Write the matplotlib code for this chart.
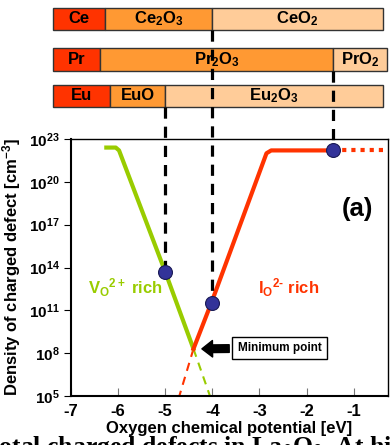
import numpy as np
import matplotlib
matplotlib.use("Agg")
import matplotlib.pyplot as plt
from matplotlib.patches import Rectangle
from matplotlib.transforms import blended_transform_factory

plt.rcParams["font.family"] = ["Liberation Sans", "DejaVu Sans"]
plt.rcParams["font.weight"] = "bold"
plt.rcParams["mathtext.fontset"] = "custom"
plt.rcParams["mathtext.rm"] = "Liberation Sans:bold"
plt.rcParams["mathtext.it"] = "Liberation Sans:bold:italic"
plt.rcParams["mathtext.bf"] = "Liberation Sans:bold"
plt.rcParams["axes.unicode_minus"] = False

# ---- phase bars (edges in eV) ----
ce_edges = [-7.38, -6.28, -4.0, -0.38]
ce_labels = ["Ce", "Ce$_2$O$_3$", "CeO$_2$"]
pr_edges = [-7.38, -6.38, -1.43, -0.30]
pr_labels = ["Pr", "Pr$_2$O$_3$", "PrO$_2$"]
eu_edges = [-7.38, -6.17, -5.0, -0.38]
eu_labels = ["Eu", "EuO", "Eu$_2$O$_3$"]

# ---- defect density curves (x in eV, log10 density) ----
vo_x = [-6.25, -6.05, -5.98, -5.0, -4.4]
vo_logn = [22.4, 22.4, 22.2, 13.7, 8.3]
vo_ext_x = [-4.4, -4.05]
vo_ext_logn = [8.3, 5.0]

io_x = [-4.4, -4.0, -2.85, -2.75, -1.43]
io_logn = [8.3, 11.7, 22.0, 22.2, 22.2]
io_ext_x = [-4.4, -4.70]
io_ext_logn = [8.3, 5.0]
io_dot_x = [-1.43, -0.27]
io_dot_logn = [22.2, 22.2]

pts_x = [-5.0, -4.0, -1.43]
pts_logn = [13.7, 11.5, 22.2]

xticks = [-7, -6, -5, -4, -3, -2, -1]
yexp = [5, 8, 11, 14, 17, 20, 23]

W, H = 391, 445
fig = plt.figure(figsize=(W / 100, H / 100), dpi=100)
ax = fig.add_axes([71 / W, 1 - 396 / H, (388 - 71) / W, (396 - 139) / H])

green = "#99CC00"
red = "#FF3300"

ax.plot(vo_x, 10 ** np.array(vo_logn), color=green, lw=3, solid_joinstyle="round", zorder=3)
ax.plot(vo_ext_x, 10 ** np.array(vo_ext_logn), color=green, lw=1.5, ls=(0, (4, 3)), zorder=2)
ax.plot(io_x, 10 ** np.array(io_logn), color=red, lw=3, solid_joinstyle="round", zorder=3)
ax.plot(io_ext_x, 10 ** np.array(io_ext_logn), color=red, lw=1.5, ls=(0, (4, 3)), zorder=2)
ax.plot(io_dot_x, 10 ** np.array(io_dot_logn), color=red, lw=3, ls=(0, (1, 1.2)), zorder=2)

ax.set_yscale("log")
ax.set_xlim(-7, -0.27)
ax.set_ylim(1e5, 1e23)

# dashed guide lines from the bars down to the marked points (figure y for the top)
trans = blended_transform_factory(ax.transData, fig.transFigure)
guide_top = [1 - 107 / H, 1 - 30 / H, 1 - 71 / H]
for gx, gl, gt in zip(pts_x, pts_logn, guide_top):
    ybot = ax.transData.transform((gx, 10 ** gl))[1] / fig.bbox.height
    ax.plot([gx, gx], [gt, ybot], transform=trans, color="black", lw=2.3,
            ls=(0, (3.5, 2.5)), clip_on=False, zorder=6)

ax.plot(pts_x, 10 ** np.array(pts_logn), "o", ms=10, mfc="#333399",
        mec="#1a1a55", mew=0.8, zorder=7, clip_on=False)

# phase bars
rows = [(ce_edges, ce_labels, 8, 30), (pr_edges, pr_labels, 48, 71), (eu_edges, eu_labels, 85, 107)]
fills = ["#FF3300", "#FF9933", "#FFCC99"]
for edges, labels, ytop, ybot in rows:
    y0 = 1 - ybot / H
    h = (ybot - ytop) / H
    for i, lab in enumerate(labels):
        r = Rectangle((edges[i], y0), edges[i + 1] - edges[i], h, transform=trans,
                      facecolor=fills[i], edgecolor="#333333", lw=1, clip_on=False, zorder=5)
        ax.add_patch(r)
        ax.text((edges[i] + edges[i + 1]) / 2, y0 + h / 2, lab, transform=trans,
                ha="center", va="center", fontsize=12, fontweight="bold", zorder=7)

# axes style
for s in ["top", "right"]:
    ax.spines[s].set_linewidth(1)
for s in ["left", "bottom"]:
    ax.spines[s].set_linewidth(1.5)
ax.set_xticks(xticks)
ax.set_xticklabels([str(t) for t in xticks], fontsize=12, fontweight="bold")
ax.tick_params(axis="x", direction="in", length=6, color="#777777", pad=6)
ax.set_yticks([10.0 ** e for e in yexp])
ax.set_yticklabels([f"$10^{{{e}}}$" for e in yexp], fontsize=11)
ax.yaxis.set_minor_locator(matplotlib.ticker.NullLocator())
ax.tick_params(axis="y", direction="out", length=5, pad=3)
ax.text(0, -0.035, "0", transform=blended_transform_factory(ax.transData, ax.transAxes),
        ha="center", va="top", fontsize=12, fontweight="bold", clip_on=False)

ax.set_xlabel("Oxygen chemical potential [eV]", fontsize=12, fontweight="bold", labelpad=1)
ax.set_ylabel("Density of charged defect [cm$^{-3}$]", fontsize=12, fontweight="bold", labelpad=4)

ax.text(-6.64, 10 ** 12.6, "V$_\\mathregular{O}$$^{2+}$ rich", color=green, fontsize=12,
        fontweight="bold", va="center")
ax.text(-3.04, 10 ** 12.6, "I$_\\mathregular{O}$$^{2\u2010}$ rich", color=red, fontsize=12,
        fontweight="bold", va="center")
ax.text(-0.92, 10 ** 18.1, "(a)", fontsize=18.5, fontweight="bold", ha="center", va="center")

ax.annotate("Minimum point", xy=(-4.28, 10 ** 8.3), xytext=(-2.57, 10 ** 8.36),
            fontsize=8.5, fontweight="bold", ha="center", va="center",
            bbox=dict(boxstyle="square,pad=0.45", fc="white", ec="black", lw=1),
            arrowprops=dict(arrowstyle="simple,head_width=1.4,head_length=0.9,tail_width=0.65",
                            fc="black", ec="black"), zorder=8)

# caption fragment cut off at the bottom of the picture
fig.text(-10 / W, 1 - 454 / H, "total charged defects in La$_2$O$_3$. At hig",
         fontsize=18.5, fontweight="bold", family=["Liberation Serif", "DejaVu Serif"],
         math_fontfamily="stix", ha="left", va="baseline")

fig.savefig("out.png", dpi=100)
